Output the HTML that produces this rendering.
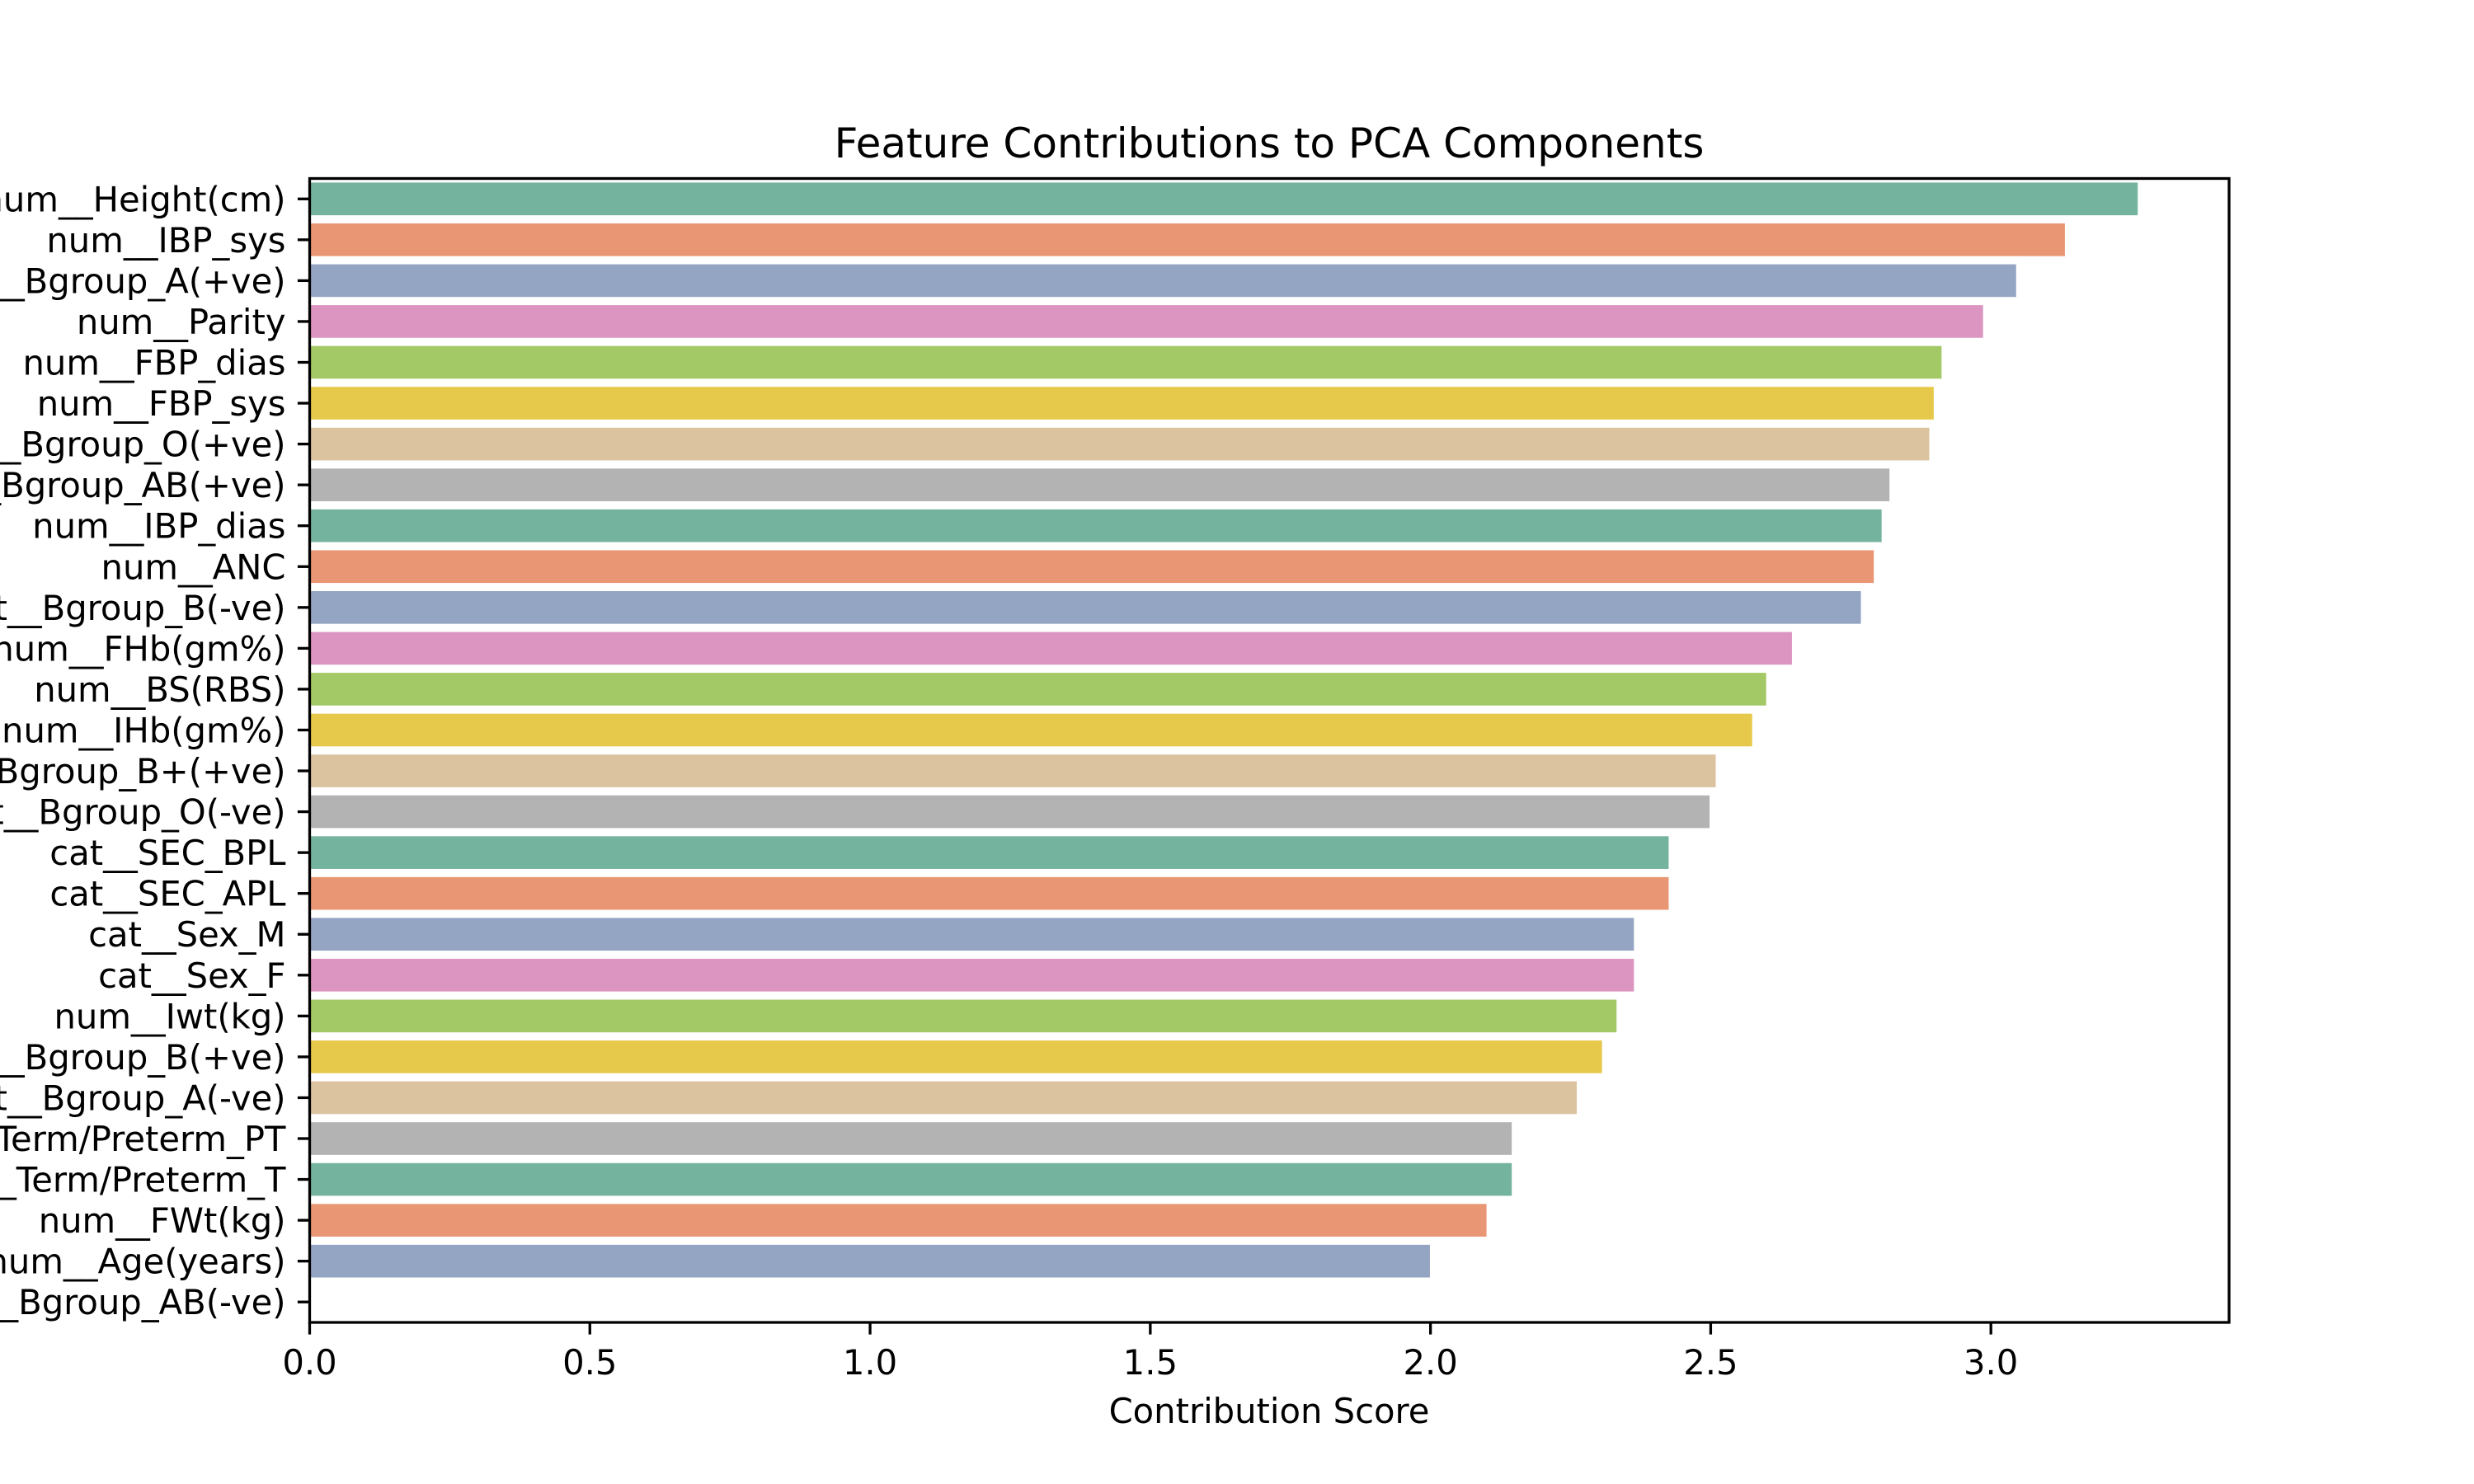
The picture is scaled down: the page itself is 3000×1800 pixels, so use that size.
<!DOCTYPE html>
<html><head><meta charset="utf-8"><style>
html,body{margin:0;padding:0;background:#fff;width:3000px;height:1800px;overflow:hidden}
svg text{font-family:"DejaVu Sans","Liberation Sans",sans-serif;fill:#000}
</style></head><body>
<svg id="chart" width="3000" height="1800" viewBox="0 0 3000 1800" xmlns="http://www.w3.org/2000/svg">
<text x="1539" y="191" font-size="50" text-anchor="middle">Feature Contributions to PCA Components</text>
<g id="bars"></g>
<g id="yticks"></g>
<g id="xticks"></g>
<rect x="375.5" y="216.5" width="2327.5" height="1387.5" fill="none" stroke="#000" stroke-width="3.3"/>
<text x="1539" y="1726" font-size="41.7" text-anchor="middle">Contribution Score</text>
</svg>
<script>
const categories = ["num__Height(cm)","num__IBP_sys","cat__Bgroup_A(+ve)","num__Parity","num__FBP_dias","num__FBP_sys","cat__Bgroup_O(+ve)","cat__Bgroup_AB(+ve)","num__IBP_dias","num__ANC","cat__Bgroup_B(-ve)","num__FHb(gm%)","num__BS(RBS)","num__IHb(gm%)","cat__Bgroup_B+(+ve)","cat__Bgroup_O(-ve)","cat__SEC_BPL","cat__SEC_APL","cat__Sex_M","cat__Sex_F","num__Iwt(kg)","cat__Bgroup_B(+ve)","cat__Bgroup_A(-ve)","cat__Term/Preterm_PT","cat__Term/Preterm_T","num__FWt(kg)","num__Age(years)","cat__Bgroup_AB(-ve)"];
const values = [3.262,3.132,3.045,2.986,2.912,2.898,2.890,2.819,2.805,2.791,2.768,2.645,2.599,2.574,2.509,2.498,2.425,2.425,2.363,2.363,2.332,2.306,2.261,2.145,2.145,2.100,1.999,0];
const xTicks = [0,0.5,1.0,1.5,2.0,2.5,3.0];
const xTickLabels = ["0.0","0.5","1.0","1.5","2.0","2.5","3.0"];
const palette = ["#74b49f","#e89674","#94a4c3","#dc95c0","#a3c866","#e6c84a","#dcc39f","#b3b3b3"];

const NS="http://www.w3.org/2000/svg";
const L=375.5,R=2703,T=216.5,B=1604,XMAX=3.425;
const xs=v=>L+(v/XMAX)*(R-L);
const band=(B-T)/categories.length;
const yc=i=>T+band*(i+0.5);
const bars=document.getElementById('bars'),yt=document.getElementById('yticks'),xt=document.getElementById('xticks');
categories.forEach((c,i)=>{
  const r=document.createElementNS(NS,'rect');
  r.setAttribute('x',xs(0));r.setAttribute('y',yc(i)-band*0.4);
  r.setAttribute('width',Math.max(0,xs(values[i])-xs(0)));r.setAttribute('height',band*0.8);
  r.setAttribute('fill',palette[i%palette.length]);
  
  
  bars.appendChild(r);
  const tk=document.createElementNS(NS,'line');
  tk.setAttribute('x1',L-14.6);tk.setAttribute('x2',L);tk.setAttribute('y1',yc(i));tk.setAttribute('y2',yc(i));
  tk.setAttribute('stroke','#000');tk.setAttribute('stroke-width','3.3');
  
  
  yt.appendChild(tk);
  const t=document.createElementNS(NS,'text');
  t.setAttribute('x',L-29);t.setAttribute('y',yc(i)+15);t.setAttribute('font-size','41.7');t.setAttribute('text-anchor','end');
  t.textContent=c;
  
  
  yt.appendChild(t);
});
xTicks.forEach((v,i)=>{
  const tk=document.createElementNS(NS,'line');
  tk.setAttribute('x1',xs(v));tk.setAttribute('x2',xs(v));tk.setAttribute('y1',B);tk.setAttribute('y2',B+14.6);
  tk.setAttribute('stroke','#000');tk.setAttribute('stroke-width','3.3');
  
  
  xt.appendChild(tk);
  const t=document.createElementNS(NS,'text');
  t.setAttribute('x',xs(v));t.setAttribute('y',B+63);t.setAttribute('font-size','41.7');t.setAttribute('text-anchor','middle');
  t.textContent=xTickLabels[i];
  
  
  xt.appendChild(t);
});
</script>
</body></html>
